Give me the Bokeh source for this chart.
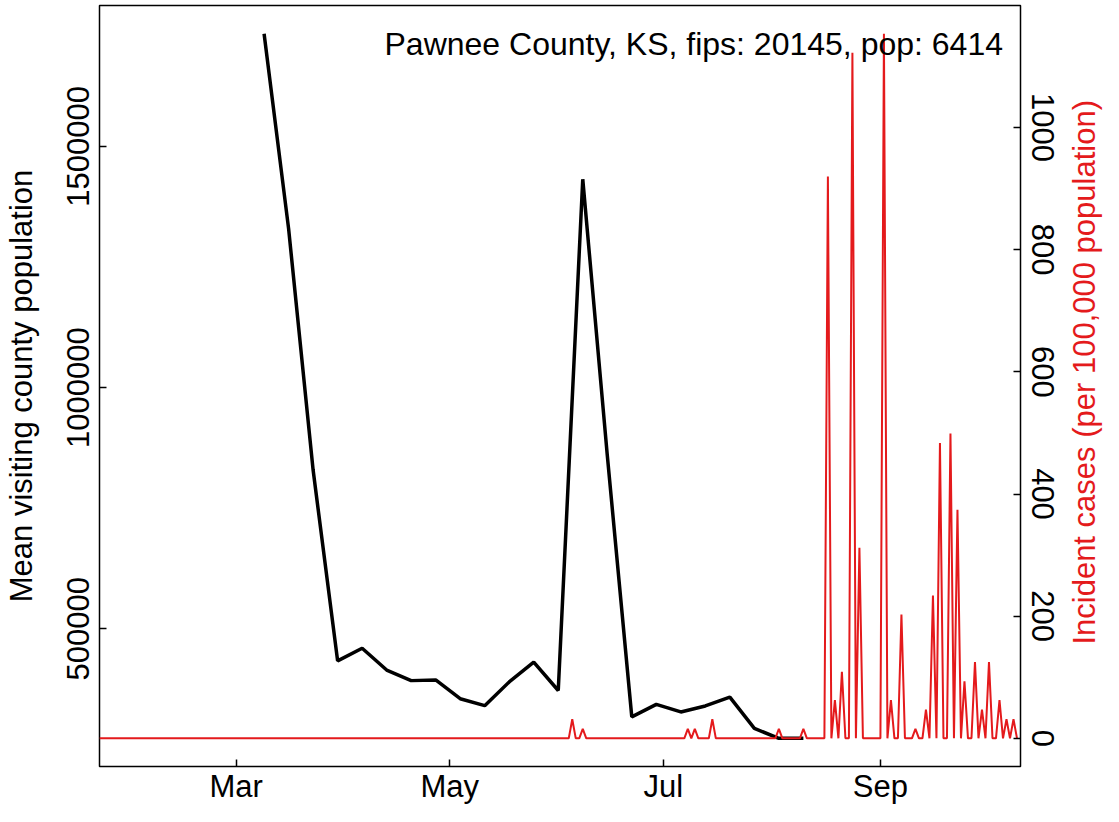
import math
import pandas as pd
from bokeh.plotting import figure
from bokeh.layouts import row
from bokeh.models import (Range1d, LinearAxis, FixedTicker, DatetimeTickFormatter,
                          BasicTickFormatter, Label, ColumnDataSource)
from bokeh.embed import file_html
from bokeh.resources import INLINE

# ---------------- data ----------------
title_text = "Pawnee County, KS, fips: 20145, pop: 6414"
left_label = "Mean visiting county population"
right_label = "Incident cases (per 100,000 population)"

visit_dates = ["2020-03-09", "2020-03-16", "2020-03-23", "2020-03-30", "2020-04-06",
               "2020-04-13", "2020-04-20", "2020-04-27", "2020-05-04", "2020-05-11",
               "2020-05-18", "2020-05-25", "2020-06-01", "2020-06-08", "2020-06-15",
               "2020-06-22", "2020-06-29", "2020-07-06", "2020-07-13", "2020-07-20",
               "2020-07-27", "2020-08-03", "2020-08-10"]
visit_means = [1733700, 1329500, 829000, 433500, 459600,
               414400, 392500, 393900, 355000, 340600,
               389800, 430900, 372000, 1432000, 860000,
               317400, 343300, 327600, 340000, 358400,
               293400, 272900, 272900]

case_series_start = "2020-01-22"
case_series_end = "2020-10-10"
case_dates = ["2020-06-05", "2020-06-08", "2020-07-08", "2020-07-10", "2020-07-15",
              "2020-08-03", "2020-08-10", "2020-08-17", "2020-08-19", "2020-08-21",
              "2020-08-24", "2020-08-26", "2020-09-02", "2020-09-04", "2020-09-07",
              "2020-09-11", "2020-09-14", "2020-09-16", "2020-09-18", "2020-09-21",
              "2020-09-23", "2020-09-25", "2020-09-28", "2020-09-30", "2020-10-02",
              "2020-10-05", "2020-10-07", "2020-10-09"]
case_rates = [31.2, 15.6, 15.6, 15.6, 31.2,
              15.6, 15.6, 919.9, 62.4, 109.1,
              1122.6, 311.8, 1153.7, 62.4, 202.7,
              15.6, 46.8, 233.9, 483.3, 498.9,
              374.2, 93.5, 124.7, 46.8, 124.7,
              62.4, 31.2, 31.2]

x_tick_dates = ["2020-03-01", "2020-05-01", "2020-07-01", "2020-09-01"]
left_ticks = [500000, 1000000, 1500000]
right_ticks = [0, 200, 400, 600, 800, 1000]

# ---------------- tables ----------------
visit_src = ColumnDataSource(dict(x=pd.to_datetime(visit_dates), y=visit_means))

all_days = pd.date_range(case_series_start, case_series_end, freq="D")
rate_map = dict(zip(pd.to_datetime(case_dates), case_rates))
daily_rates = [rate_map.get(d, 0.0) for d in all_days]
case_src = ColumnDataSource(dict(x=all_days, y=daily_rates))

def padded(vals, frac=0.04):
    lo, hi = min(vals), max(vals)
    span = hi - lo
    return lo - frac * span, hi + frac * span

ly0, ly1 = padded(visit_means)
ry0, ry1 = padded(daily_rates)

FONT = "Liberation Sans"
FS = "31px"
RED = "#E41A1C"

p = figure(width=1064, height=806, output_backend="svg", toolbar_location=None,
           x_axis_type="datetime",
           x_range=Range1d(pd.Timestamp(case_series_start), pd.Timestamp("2020-10-11")),
           y_range=Range1d(ly0, ly1),
           min_border_left=99, min_border_right=44, min_border_top=5, min_border_bottom=36)
p.extra_y_ranges = {"cases": Range1d(ry0, ry1)}

p.grid.visible = False
p.outline_line_color = "black"
p.outline_line_width = 1.5
p.background_fill_color = "white"
p.border_fill_color = "white"

# x axis
xa = p.xaxis[0]
xa.ticker = FixedTicker(ticks=[pd.Timestamp(d).value // 10**6 for d in x_tick_dates])
xa.formatter = DatetimeTickFormatter(years="%b", months="%b", days="%b", hours="%b",
                                     minutes="%b", seconds="%b", milliseconds="%b",
                                     microseconds="%b", minsec="%b", hourmin="%b")
# left axis
ya = p.yaxis[0]
ya.ticker = FixedTicker(ticks=left_ticks)
ya.formatter = BasicTickFormatter(use_scientific=False)
ya.major_label_orientation = "vertical"
ya.axis_label = left_label

# right axis (its title is drawn in a narrow side panel so it reads upward like R)
ra = LinearAxis(y_range_name="cases", ticker=FixedTicker(ticks=right_ticks))
ra.major_label_orientation = "vertical"
p.add_layout(ra, "right")

for ax in [xa, ya, ra]:
    ax.axis_line_color = None
    ax.major_tick_in = 7
    ax.major_tick_out = 0
    ax.major_tick_line_color = "black"
    ax.major_tick_line_width = 1.5
    ax.minor_tick_line_color = None
    ax.major_label_text_font = FONT
    ax.major_label_text_font_size = FS
    ax.major_label_text_color = "black"
    ax.axis_label_text_font = FONT
    ax.axis_label_text_font_size = FS
    ax.axis_label_text_font_style = "normal"
    ax.axis_label_text_color = "black"

xa.major_label_standoff = 2
ya.major_label_standoff = 10
ya.axis_label_standoff = 26
ra.major_label_standoff = 11

# lines
p.line("x", "y", source=visit_src, line_color="black", line_width=3.5)
p.line("x", "y", source=case_src, y_range_name="cases", line_color=RED, line_width=2)

p.add_layout(Label(x=pd.Timestamp("2020-10-06"), y=1713000, text=title_text,
                   text_align="right", text_baseline="alphabetic",
                   text_font=FONT, text_font_size="32px", text_color="black"))

# side panel carrying the right-hand axis title
q = figure(width=39, height=806, output_backend="svg", toolbar_location=None,
           x_range=Range1d(0, 1), y_range=Range1d(0, 1),
           x_axis_location=None, y_axis_location=None,
           min_border_left=0, min_border_right=0, min_border_top=0, min_border_bottom=0)
q.grid.visible = False
q.outline_line_color = None
q.background_fill_color = "white"
q.border_fill_color = "white"
q.add_layout(Label(x=0.5, y=0.518, text=right_label, angle=math.pi / 2,
                   text_align="center", text_baseline="middle",
                   text_font=FONT, text_font_size=FS, text_color=RED))

layout = row(p, q)
open("out.html", "w").write(file_html(layout, INLINE))
